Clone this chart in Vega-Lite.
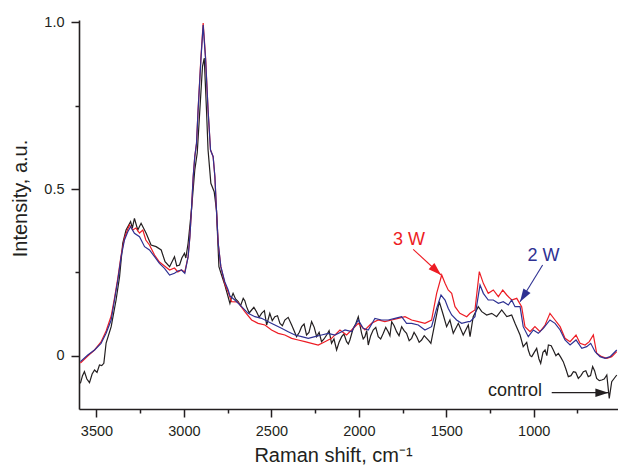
{
  "$schema": "https://vega.github.io/schema/vega-lite/v6.json",
  "width": 539,
  "height": 389,
  "autosize": {"type": "none"},
  "padding": {"left": 79, "top": 20, "right": 0, "bottom": 56},
  "background": "white",
  "config": {
    "view": {"stroke": null},
    "font": "Liberation Sans",
    "axis": {
      "grid": false,
      "domainColor": "#231f20",
      "domainWidth": 1.6,
      "tickColor": "#231f20",
      "tickWidth": 1.5,
      "labelFont": "Liberation Sans",
      "labelFontSize": 14.5,
      "labelColor": "#231f20",
      "labelPadding": 7,
      "labelOverlap": false,
      "labelFlush": false,
      "titleFont": "Liberation Sans",
      "titleFontSize": 20,
      "titleFontWeight": "normal",
      "titleColor": "#231f20"
    }
  },
  "datasets": {
    "spectra": [
      {"s": "control", "x": 3592, "y": -0.083}, {"s": "control", "x": 3580, "y": -0.06}, {"s": "control", "x": 3569, "y": -0.048}, {"s": "control", "x": 3555, "y": -0.07}, {"s": "control", "x": 3540, "y": -0.081}, {"s": "control", "x": 3525, "y": -0.055}, {"s": "control", "x": 3511, "y": -0.043}, {"s": "control", "x": 3497, "y": -0.05}, {"s": "control", "x": 3483, "y": -0.028}, {"s": "control", "x": 3470, "y": -0.03}, {"s": "control", "x": 3458, "y": -0.023}, {"s": "control", "x": 3445, "y": 0.038}, {"s": "control", "x": 3416, "y": 0.087}, {"s": "control", "x": 3388, "y": 0.167}, {"s": "control", "x": 3368, "y": 0.237}, {"s": "control", "x": 3350, "y": 0.337}, {"s": "control", "x": 3331, "y": 0.377}, {"s": "control", "x": 3305, "y": 0.402}, {"s": "control", "x": 3295, "y": 0.383}, {"s": "control", "x": 3283, "y": 0.412}, {"s": "control", "x": 3264, "y": 0.377}, {"s": "control", "x": 3245, "y": 0.397}, {"s": "control", "x": 3216, "y": 0.367}, {"s": "control", "x": 3188, "y": 0.332}, {"s": "control", "x": 3159, "y": 0.327}, {"s": "control", "x": 3130, "y": 0.317}, {"s": "control", "x": 3108, "y": 0.282}, {"s": "control", "x": 3082, "y": 0.267}, {"s": "control", "x": 3054, "y": 0.297}, {"s": "control", "x": 3041, "y": 0.269}, {"s": "control", "x": 3025, "y": 0.272}, {"s": "control", "x": 3012, "y": 0.293}, {"s": "control", "x": 2997, "y": 0.307}, {"s": "control", "x": 2989, "y": 0.293}, {"s": "control", "x": 2976, "y": 0.338}, {"s": "control", "x": 2957, "y": 0.437}, {"s": "control", "x": 2938, "y": 0.557}, {"s": "control", "x": 2924, "y": 0.608}, {"s": "control", "x": 2909, "y": 0.737}, {"s": "control", "x": 2894, "y": 0.867}, {"s": "control", "x": 2884, "y": 0.893}, {"s": "control", "x": 2871, "y": 0.737}, {"s": "control", "x": 2862, "y": 0.617}, {"s": "control", "x": 2846, "y": 0.517}, {"s": "control", "x": 2827, "y": 0.492}, {"s": "control", "x": 2814, "y": 0.437}, {"s": "control", "x": 2800, "y": 0.267}, {"s": "control", "x": 2783, "y": 0.239}, {"s": "control", "x": 2766, "y": 0.212}, {"s": "control", "x": 2737, "y": 0.157}, {"s": "control", "x": 2728, "y": 0.175}, {"s": "control", "x": 2719, "y": 0.187}, {"s": "control", "x": 2705, "y": 0.17}, {"s": "control", "x": 2690, "y": 0.162}, {"s": "control", "x": 2676, "y": 0.15}, {"s": "control", "x": 2661, "y": 0.172}, {"s": "control", "x": 2652, "y": 0.165}, {"s": "control", "x": 2642, "y": 0.147}, {"s": "control", "x": 2627, "y": 0.128}, {"s": "control", "x": 2613, "y": 0.137}, {"s": "control", "x": 2600, "y": 0.145}, {"s": "control", "x": 2585, "y": 0.132}, {"s": "control", "x": 2570, "y": 0.115}, {"s": "control", "x": 2556, "y": 0.127}, {"s": "control", "x": 2540, "y": 0.135}, {"s": "control", "x": 2527, "y": 0.092}, {"s": "control", "x": 2509, "y": 0.127}, {"s": "control", "x": 2495, "y": 0.105}, {"s": "control", "x": 2480, "y": 0.117}, {"s": "control", "x": 2465, "y": 0.12}, {"s": "control", "x": 2451, "y": 0.097}, {"s": "control", "x": 2437, "y": 0.09}, {"s": "control", "x": 2423, "y": 0.107}, {"s": "control", "x": 2404, "y": 0.115}, {"s": "control", "x": 2384, "y": 0.092}, {"s": "control", "x": 2370, "y": 0.075}, {"s": "control", "x": 2356, "y": 0.057}, {"s": "control", "x": 2340, "y": 0.07}, {"s": "control", "x": 2327, "y": 0.087}, {"s": "control", "x": 2313, "y": 0.095}, {"s": "control", "x": 2299, "y": 0.062}, {"s": "control", "x": 2285, "y": 0.07}, {"s": "control", "x": 2270, "y": 0.102}, {"s": "control", "x": 2255, "y": 0.085}, {"s": "control", "x": 2241, "y": 0.057}, {"s": "control", "x": 2227, "y": 0.07}, {"s": "control", "x": 2213, "y": 0.042}, {"s": "control", "x": 2199, "y": 0.05}, {"s": "control", "x": 2184, "y": 0.062}, {"s": "control", "x": 2170, "y": 0.075}, {"s": "control", "x": 2156, "y": 0.037}, {"s": "control", "x": 2142, "y": 0.05}, {"s": "control", "x": 2127, "y": 0.017}, {"s": "control", "x": 2113, "y": 0.04}, {"s": "control", "x": 2098, "y": 0.057}, {"s": "control", "x": 2085, "y": 0.065}, {"s": "control", "x": 2070, "y": 0.042}, {"s": "control", "x": 2060, "y": 0.035}, {"s": "control", "x": 2051, "y": 0.047}, {"s": "control", "x": 2032, "y": 0.082}, {"s": "control", "x": 2018, "y": 0.095}, {"s": "control", "x": 2003, "y": 0.117}, {"s": "control", "x": 1993, "y": 0.09}, {"s": "control", "x": 1984, "y": 0.067}, {"s": "control", "x": 1975, "y": 0.05}, {"s": "control", "x": 1965, "y": 0.057}, {"s": "control", "x": 1955, "y": 0.075}, {"s": "control", "x": 1946, "y": 0.032}, {"s": "control", "x": 1932, "y": 0.06}, {"s": "control", "x": 1918, "y": 0.077}, {"s": "control", "x": 1903, "y": 0.085}, {"s": "control", "x": 1889, "y": 0.057}, {"s": "control", "x": 1875, "y": 0.05}, {"s": "control", "x": 1860, "y": 0.067}, {"s": "control", "x": 1846, "y": 0.085}, {"s": "control", "x": 1832, "y": 0.072}, {"s": "control", "x": 1822, "y": 0.06}, {"s": "control", "x": 1812, "y": 0.102}, {"s": "control", "x": 1798, "y": 0.09}, {"s": "control", "x": 1784, "y": 0.072}, {"s": "control", "x": 1770, "y": 0.06}, {"s": "control", "x": 1755, "y": 0.087}, {"s": "control", "x": 1741, "y": 0.075}, {"s": "control", "x": 1727, "y": 0.067}, {"s": "control", "x": 1712, "y": 0.045}, {"s": "control", "x": 1698, "y": 0.052}, {"s": "control", "x": 1684, "y": 0.07}, {"s": "control", "x": 1669, "y": 0.057}, {"s": "control", "x": 1655, "y": 0.04}, {"s": "control", "x": 1641, "y": 0.047}, {"s": "control", "x": 1626, "y": 0.06}, {"s": "control", "x": 1612, "y": 0.052}, {"s": "control", "x": 1600, "y": 0.045}, {"s": "control", "x": 1588, "y": 0.037}, {"s": "control", "x": 1569, "y": 0.087}, {"s": "control", "x": 1540, "y": 0.162}, {"s": "control", "x": 1517, "y": 0.122}, {"s": "control", "x": 1498, "y": 0.087}, {"s": "control", "x": 1479, "y": 0.107}, {"s": "control", "x": 1460, "y": 0.067}, {"s": "control", "x": 1431, "y": 0.097}, {"s": "control", "x": 1403, "y": 0.062}, {"s": "control", "x": 1374, "y": 0.092}, {"s": "control", "x": 1364, "y": 0.057}, {"s": "control", "x": 1346, "y": 0.117}, {"s": "control", "x": 1317, "y": 0.147}, {"s": "control", "x": 1297, "y": 0.132}, {"s": "control", "x": 1269, "y": 0.122}, {"s": "control", "x": 1240, "y": 0.127}, {"s": "control", "x": 1212, "y": 0.117}, {"s": "control", "x": 1183, "y": 0.137}, {"s": "control", "x": 1154, "y": 0.117}, {"s": "control", "x": 1126, "y": 0.122}, {"s": "control", "x": 1107, "y": 0.097}, {"s": "control", "x": 1078, "y": 0.062}, {"s": "control", "x": 1060, "y": 0.027}, {"s": "control", "x": 1040, "y": 0.04}, {"s": "control", "x": 1031, "y": 0.017}, {"s": "control", "x": 1020, "y": 0.0}, {"s": "control", "x": 1011, "y": -0.003}, {"s": "control", "x": 997, "y": 0.01}, {"s": "control", "x": 983, "y": 0.022}, {"s": "control", "x": 970, "y": -0.01}, {"s": "control", "x": 960, "y": -0.023}, {"s": "control", "x": 947, "y": 0.01}, {"s": "control", "x": 935, "y": 0.017}, {"s": "control", "x": 925, "y": 0.0}, {"s": "control", "x": 916, "y": 0.032}, {"s": "control", "x": 900, "y": 0.03}, {"s": "control", "x": 888, "y": 0.017}, {"s": "control", "x": 873, "y": 0.0}, {"s": "control", "x": 859, "y": 0.007}, {"s": "control", "x": 845, "y": -0.005}, {"s": "control", "x": 831, "y": -0.018}, {"s": "control", "x": 816, "y": -0.04}, {"s": "control", "x": 802, "y": -0.063}, {"s": "control", "x": 787, "y": -0.06}, {"s": "control", "x": 773, "y": -0.048}, {"s": "control", "x": 760, "y": -0.05}, {"s": "control", "x": 745, "y": -0.068}, {"s": "control", "x": 730, "y": -0.06}, {"s": "control", "x": 716, "y": -0.048}, {"s": "control", "x": 702, "y": -0.045}, {"s": "control", "x": 688, "y": -0.063}, {"s": "control", "x": 675, "y": -0.06}, {"s": "control", "x": 663, "y": -0.033}, {"s": "control", "x": 652, "y": -0.045}, {"s": "control", "x": 640, "y": -0.068}, {"s": "control", "x": 625, "y": -0.075}, {"s": "control", "x": 611, "y": -0.073}, {"s": "control", "x": 597, "y": -0.07}, {"s": "control", "x": 582, "y": -0.058}, {"s": "control", "x": 568, "y": -0.128}, {"s": "control", "x": 554, "y": -0.078}, {"s": "control", "x": 525, "y": -0.058},

      {"s": "3 W", "x": 3592, "y": -0.022}, {"s": "3 W", "x": 3550, "y": -0.001}, {"s": "3 W", "x": 3511, "y": 0.017}, {"s": "3 W", "x": 3474, "y": 0.041}, {"s": "3 W", "x": 3445, "y": 0.074}, {"s": "3 W", "x": 3416, "y": 0.119}, {"s": "3 W", "x": 3397, "y": 0.173}, {"s": "3 W", "x": 3378, "y": 0.233}, {"s": "3 W", "x": 3359, "y": 0.302}, {"s": "3 W", "x": 3340, "y": 0.353}, {"s": "3 W", "x": 3321, "y": 0.38}, {"s": "3 W", "x": 3311, "y": 0.392}, {"s": "3 W", "x": 3292, "y": 0.377}, {"s": "3 W", "x": 3275, "y": 0.383}, {"s": "3 W", "x": 3254, "y": 0.368}, {"s": "3 W", "x": 3235, "y": 0.377}, {"s": "3 W", "x": 3218, "y": 0.347}, {"s": "3 W", "x": 3197, "y": 0.332}, {"s": "3 W", "x": 3168, "y": 0.302}, {"s": "3 W", "x": 3140, "y": 0.281}, {"s": "3 W", "x": 3111, "y": 0.269}, {"s": "3 W", "x": 3082, "y": 0.257}, {"s": "3 W", "x": 3054, "y": 0.263}, {"s": "3 W", "x": 3035, "y": 0.251}, {"s": "3 W", "x": 3014, "y": 0.257}, {"s": "3 W", "x": 2995, "y": 0.251}, {"s": "3 W", "x": 2976, "y": 0.297}, {"s": "3 W", "x": 2966, "y": 0.357}, {"s": "3 W", "x": 2957, "y": 0.437}, {"s": "3 W", "x": 2947, "y": 0.537}, {"s": "3 W", "x": 2938, "y": 0.597}, {"s": "3 W", "x": 2928, "y": 0.637}, {"s": "3 W", "x": 2919, "y": 0.737}, {"s": "3 W", "x": 2903, "y": 0.893}, {"s": "3 W", "x": 2890, "y": 0.998}, {"s": "3 W", "x": 2876, "y": 0.893}, {"s": "3 W", "x": 2862, "y": 0.737}, {"s": "3 W", "x": 2848, "y": 0.617}, {"s": "3 W", "x": 2833, "y": 0.597}, {"s": "3 W", "x": 2823, "y": 0.537}, {"s": "3 W", "x": 2814, "y": 0.437}, {"s": "3 W", "x": 2804, "y": 0.337}, {"s": "3 W", "x": 2789, "y": 0.267}, {"s": "3 W", "x": 2766, "y": 0.215}, {"s": "3 W", "x": 2747, "y": 0.191}, {"s": "3 W", "x": 2728, "y": 0.162}, {"s": "3 W", "x": 2692, "y": 0.161}, {"s": "3 W", "x": 2652, "y": 0.132}, {"s": "3 W", "x": 2613, "y": 0.107}, {"s": "3 W", "x": 2576, "y": 0.097}, {"s": "3 W", "x": 2537, "y": 0.092}, {"s": "3 W", "x": 2499, "y": 0.077}, {"s": "3 W", "x": 2461, "y": 0.067}, {"s": "3 W", "x": 2423, "y": 0.062}, {"s": "3 W", "x": 2384, "y": 0.052}, {"s": "3 W", "x": 2347, "y": 0.047}, {"s": "3 W", "x": 2308, "y": 0.042}, {"s": "3 W", "x": 2270, "y": 0.037}, {"s": "3 W", "x": 2232, "y": 0.032}, {"s": "3 W", "x": 2194, "y": 0.042}, {"s": "3 W", "x": 2156, "y": 0.052}, {"s": "3 W", "x": 2108, "y": 0.077}, {"s": "3 W", "x": 2070, "y": 0.062}, {"s": "3 W", "x": 2041, "y": 0.077}, {"s": "3 W", "x": 2003, "y": 0.097}, {"s": "3 W", "x": 1965, "y": 0.077}, {"s": "3 W", "x": 1927, "y": 0.097}, {"s": "3 W", "x": 1889, "y": 0.107}, {"s": "3 W", "x": 1851, "y": 0.102}, {"s": "3 W", "x": 1812, "y": 0.107}, {"s": "3 W", "x": 1775, "y": 0.112}, {"s": "3 W", "x": 1736, "y": 0.117}, {"s": "3 W", "x": 1698, "y": 0.107}, {"s": "3 W", "x": 1660, "y": 0.102}, {"s": "3 W", "x": 1622, "y": 0.097}, {"s": "3 W", "x": 1584, "y": 0.107}, {"s": "3 W", "x": 1555, "y": 0.187}, {"s": "3 W", "x": 1526, "y": 0.242}, {"s": "3 W", "x": 1507, "y": 0.217}, {"s": "3 W", "x": 1489, "y": 0.197}, {"s": "3 W", "x": 1469, "y": 0.187}, {"s": "3 W", "x": 1450, "y": 0.147}, {"s": "3 W", "x": 1422, "y": 0.127}, {"s": "3 W", "x": 1383, "y": 0.117}, {"s": "3 W", "x": 1364, "y": 0.127}, {"s": "3 W", "x": 1336, "y": 0.137}, {"s": "3 W", "x": 1311, "y": 0.252}, {"s": "3 W", "x": 1288, "y": 0.217}, {"s": "3 W", "x": 1260, "y": 0.187}, {"s": "3 W", "x": 1231, "y": 0.197}, {"s": "3 W", "x": 1202, "y": 0.177}, {"s": "3 W", "x": 1177, "y": 0.197}, {"s": "3 W", "x": 1154, "y": 0.182}, {"s": "3 W", "x": 1126, "y": 0.167}, {"s": "3 W", "x": 1097, "y": 0.172}, {"s": "3 W", "x": 1069, "y": 0.147}, {"s": "3 W", "x": 1050, "y": 0.087}, {"s": "3 W", "x": 1021, "y": 0.072}, {"s": "3 W", "x": 993, "y": 0.087}, {"s": "3 W", "x": 964, "y": 0.072}, {"s": "3 W", "x": 935, "y": 0.092}, {"s": "3 W", "x": 907, "y": 0.127}, {"s": "3 W", "x": 878, "y": 0.107}, {"s": "3 W", "x": 849, "y": 0.087}, {"s": "3 W", "x": 821, "y": 0.052}, {"s": "3 W", "x": 792, "y": 0.042}, {"s": "3 W", "x": 758, "y": 0.062}, {"s": "3 W", "x": 735, "y": 0.037}, {"s": "3 W", "x": 706, "y": 0.032}, {"s": "3 W", "x": 682, "y": 0.042}, {"s": "3 W", "x": 659, "y": 0.062}, {"s": "3 W", "x": 640, "y": 0.007}, {"s": "3 W", "x": 611, "y": -0.003}, {"s": "3 W", "x": 582, "y": -0.008}, {"s": "3 W", "x": 554, "y": -0.003}, {"s": "3 W", "x": 525, "y": 0.012},

      {"s": "2 W", "x": 3592, "y": -0.018}, {"s": "2 W", "x": 3550, "y": 0.002}, {"s": "2 W", "x": 3511, "y": 0.017}, {"s": "2 W", "x": 3474, "y": 0.037}, {"s": "2 W", "x": 3445, "y": 0.067}, {"s": "2 W", "x": 3416, "y": 0.107}, {"s": "2 W", "x": 3397, "y": 0.167}, {"s": "2 W", "x": 3378, "y": 0.227}, {"s": "2 W", "x": 3359, "y": 0.297}, {"s": "2 W", "x": 3340, "y": 0.347}, {"s": "2 W", "x": 3321, "y": 0.372}, {"s": "2 W", "x": 3305, "y": 0.387}, {"s": "2 W", "x": 3283, "y": 0.367}, {"s": "2 W", "x": 3254, "y": 0.357}, {"s": "2 W", "x": 3225, "y": 0.327}, {"s": "2 W", "x": 3197, "y": 0.317}, {"s": "2 W", "x": 3168, "y": 0.297}, {"s": "2 W", "x": 3140, "y": 0.277}, {"s": "2 W", "x": 3111, "y": 0.262}, {"s": "2 W", "x": 3082, "y": 0.242}, {"s": "2 W", "x": 3054, "y": 0.247}, {"s": "2 W", "x": 3035, "y": 0.254}, {"s": "2 W", "x": 3014, "y": 0.257}, {"s": "2 W", "x": 2995, "y": 0.247}, {"s": "2 W", "x": 2976, "y": 0.297}, {"s": "2 W", "x": 2966, "y": 0.357}, {"s": "2 W", "x": 2957, "y": 0.437}, {"s": "2 W", "x": 2947, "y": 0.537}, {"s": "2 W", "x": 2938, "y": 0.597}, {"s": "2 W", "x": 2928, "y": 0.637}, {"s": "2 W", "x": 2919, "y": 0.737}, {"s": "2 W", "x": 2903, "y": 0.887}, {"s": "2 W", "x": 2890, "y": 0.992}, {"s": "2 W", "x": 2876, "y": 0.887}, {"s": "2 W", "x": 2862, "y": 0.737}, {"s": "2 W", "x": 2848, "y": 0.617}, {"s": "2 W", "x": 2833, "y": 0.597}, {"s": "2 W", "x": 2823, "y": 0.537}, {"s": "2 W", "x": 2814, "y": 0.437}, {"s": "2 W", "x": 2804, "y": 0.337}, {"s": "2 W", "x": 2789, "y": 0.267}, {"s": "2 W", "x": 2766, "y": 0.221}, {"s": "2 W", "x": 2747, "y": 0.197}, {"s": "2 W", "x": 2737, "y": 0.179}, {"s": "2 W", "x": 2709, "y": 0.167}, {"s": "2 W", "x": 2670, "y": 0.147}, {"s": "2 W", "x": 2633, "y": 0.127}, {"s": "2 W", "x": 2594, "y": 0.117}, {"s": "2 W", "x": 2556, "y": 0.112}, {"s": "2 W", "x": 2518, "y": 0.102}, {"s": "2 W", "x": 2480, "y": 0.092}, {"s": "2 W", "x": 2442, "y": 0.082}, {"s": "2 W", "x": 2404, "y": 0.072}, {"s": "2 W", "x": 2365, "y": 0.062}, {"s": "2 W", "x": 2327, "y": 0.057}, {"s": "2 W", "x": 2289, "y": 0.052}, {"s": "2 W", "x": 2251, "y": 0.057}, {"s": "2 W", "x": 2213, "y": 0.062}, {"s": "2 W", "x": 2175, "y": 0.067}, {"s": "2 W", "x": 2137, "y": 0.062}, {"s": "2 W", "x": 2098, "y": 0.072}, {"s": "2 W", "x": 2079, "y": 0.077}, {"s": "2 W", "x": 2041, "y": 0.072}, {"s": "2 W", "x": 2003, "y": 0.107}, {"s": "2 W", "x": 1975, "y": 0.082}, {"s": "2 W", "x": 1946, "y": 0.077}, {"s": "2 W", "x": 1908, "y": 0.112}, {"s": "2 W", "x": 1870, "y": 0.107}, {"s": "2 W", "x": 1832, "y": 0.107}, {"s": "2 W", "x": 1793, "y": 0.112}, {"s": "2 W", "x": 1755, "y": 0.117}, {"s": "2 W", "x": 1727, "y": 0.097}, {"s": "2 W", "x": 1698, "y": 0.097}, {"s": "2 W", "x": 1660, "y": 0.092}, {"s": "2 W", "x": 1622, "y": 0.077}, {"s": "2 W", "x": 1584, "y": 0.087}, {"s": "2 W", "x": 1555, "y": 0.142}, {"s": "2 W", "x": 1530, "y": 0.182}, {"s": "2 W", "x": 1507, "y": 0.167}, {"s": "2 W", "x": 1489, "y": 0.142}, {"s": "2 W", "x": 1469, "y": 0.122}, {"s": "2 W", "x": 1441, "y": 0.107}, {"s": "2 W", "x": 1412, "y": 0.097}, {"s": "2 W", "x": 1374, "y": 0.102}, {"s": "2 W", "x": 1364, "y": 0.102}, {"s": "2 W", "x": 1336, "y": 0.117}, {"s": "2 W", "x": 1307, "y": 0.212}, {"s": "2 W", "x": 1288, "y": 0.187}, {"s": "2 W", "x": 1260, "y": 0.167}, {"s": "2 W", "x": 1231, "y": 0.167}, {"s": "2 W", "x": 1202, "y": 0.157}, {"s": "2 W", "x": 1174, "y": 0.162}, {"s": "2 W", "x": 1145, "y": 0.152}, {"s": "2 W", "x": 1126, "y": 0.167}, {"s": "2 W", "x": 1107, "y": 0.147}, {"s": "2 W", "x": 1078, "y": 0.147}, {"s": "2 W", "x": 1060, "y": 0.087}, {"s": "2 W", "x": 1031, "y": 0.057}, {"s": "2 W", "x": 1002, "y": 0.077}, {"s": "2 W", "x": 974, "y": 0.067}, {"s": "2 W", "x": 945, "y": 0.082}, {"s": "2 W", "x": 907, "y": 0.107}, {"s": "2 W", "x": 878, "y": 0.097}, {"s": "2 W", "x": 849, "y": 0.077}, {"s": "2 W", "x": 821, "y": 0.047}, {"s": "2 W", "x": 792, "y": 0.032}, {"s": "2 W", "x": 758, "y": 0.047}, {"s": "2 W", "x": 725, "y": 0.022}, {"s": "2 W", "x": 697, "y": 0.027}, {"s": "2 W", "x": 674, "y": 0.037}, {"s": "2 W", "x": 649, "y": 0.012}, {"s": "2 W", "x": 621, "y": -0.003}, {"s": "2 W", "x": 592, "y": -0.008}, {"s": "2 W", "x": 563, "y": -0.003}, {"s": "2 W", "x": 525, "y": 0.017}
    ],
    "labels": [
      {"s": "3 W", "x": 1713, "y": 0.347},
      {"s": "2 W", "x": 944, "y": 0.299},
      {"s": "control", "x": 1107, "y": -0.106}
    ],
    "arrows": [
      {"s": "3 W", "x": 1689, "y": 0.319, "x2": 1530, "y2": 0.242},
      {"s": "2 W", "x": 949, "y": 0.272, "x2": 1078, "y2": 0.162},
      {"s": "control", "x": 897, "y": -0.111, "x2": 573, "y2": -0.111}
    ]
  },
  "encoding": {
    "x": {
      "field": "x",
      "type": "quantitative",
      "scale": {"domain": [518, 3600], "reverse": true, "nice": false, "zero": false},
      "axis": {
        "values": [3500, 3250, 3000, 2750, 2500, 2250, 2000, 1750, 1500, 1250, 1000, 750],
        "format": "d",
        "labelExpr": "datum.value % 500 == 0 ? datum.label : ''",
        "tickSize": {"condition": {"test": "datum.value % 500 != 0", "value": 4}, "value": 8},
        "title": "Raman shift, cm⁻¹",
        "titleX": 254,
        "titleY": 46,
        "titleBaseline": "middle"
      }
    },
    "y": {
      "field": "y",
      "type": "quantitative",
      "scale": {"domain": [-0.16, 1.007], "nice": false, "zero": false},
      "axis": {
        "values": [0, 0.25, 0.5, 0.75, 1],
        "labelExpr": "datum.value == 0 ? '0' : (datum.value == 0.5 || datum.value == 1) ? format(datum.value, '.1f') : ''",
        "tickSize": {"condition": {"test": "datum.value == 0.25 || datum.value == 0.75", "value": 4}, "value": 8},
        "title": "Intensity, a.u.",
        "titleX": -59,
        "titleY": 178,
        "titleBaseline": "middle"
      }
    },
    "color": {
      "field": "s",
      "type": "nominal",
      "scale": {"domain": ["control", "2 W", "3 W"], "range": ["#231f20", "#2e3192", "#ed1c24"]},
      "legend": null
    }
  },
  "layer": [
    {
      "data": {"name": "spectra"},
      "transform": [{"filter": "datum.s == 'control'"}],
      "mark": {"type": "line", "strokeWidth": 1.2, "clip": true}
    },
    {
      "data": {"name": "spectra"},
      "transform": [{"filter": "datum.s == '3 W'"}],
      "mark": {"type": "line", "strokeWidth": 1.2, "clip": true}
    },
    {
      "data": {"name": "spectra"},
      "transform": [{"filter": "datum.s == '2 W'"}],
      "mark": {"type": "line", "strokeWidth": 1.2, "clip": true}
    },
    {
      "data": {"name": "arrows"},
      "mark": {"type": "rule", "strokeWidth": 1.1},
      "encoding": {
        "x2": {"field": "x2"},
        "y2": {"field": "y2"}
      }
    },
    {
      "data": {"name": "arrows"},
      "transform": [{"filter": "datum.s == '3 W'"}],
      "mark": {"type": "point", "filled": true, "opacity": 1, "size": 169, "shape": "M0,0 L-2,-0.65 L-2,0.65 Z", "angle": 43},
      "encoding": {"x": {"field": "x2", "type": "quantitative"}, "y": {"field": "y2", "type": "quantitative"}}
    },
    {
      "data": {"name": "arrows"},
      "transform": [{"filter": "datum.s == '2 W'"}],
      "mark": {"type": "point", "filled": true, "opacity": 1, "size": 169, "shape": "M0,0 L-2,-0.65 L-2,0.65 Z", "angle": 122},
      "encoding": {"x": {"field": "x2", "type": "quantitative"}, "y": {"field": "y2", "type": "quantitative"}}
    },
    {
      "data": {"name": "arrows"},
      "transform": [{"filter": "datum.s == 'control'"}],
      "mark": {"type": "point", "filled": true, "opacity": 1, "size": 169, "shape": "M0,0 L-2,-0.65 L-2,0.65 Z", "angle": 0},
      "encoding": {"x": {"field": "x2", "type": "quantitative"}, "y": {"field": "y2", "type": "quantitative"}}
    },
    {
      "data": {"name": "labels"},
      "mark": {"type": "text", "fontSize": 18, "font": "Liberation Sans", "align": "center", "baseline": "middle"},
      "encoding": {"text": {"field": "s"}}
    }
  ]
}
